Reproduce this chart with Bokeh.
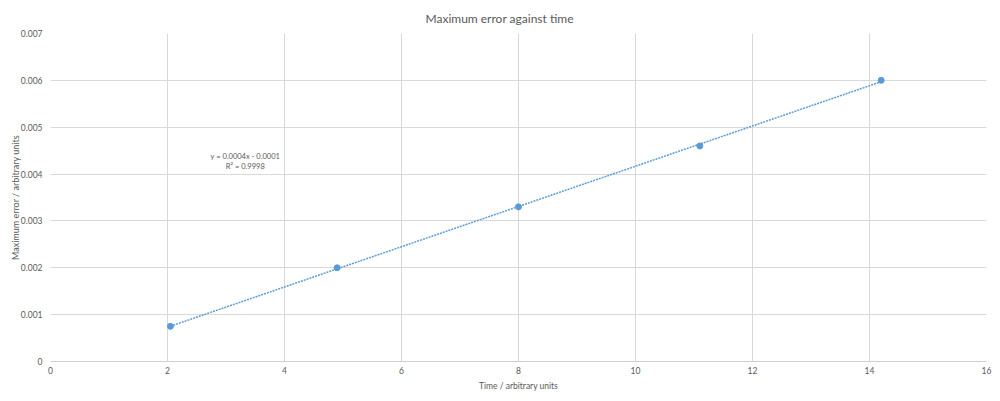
from bokeh.plotting import figure
from bokeh.models import FixedTicker, NumeralTickFormatter, Label, Range1d
from bokeh.embed import file_html
from bokeh.resources import INLINE
import numpy as np

# data
time_vals = [2.05, 4.9, 8.0, 11.1, 14.2]
max_error = [0.00075, 0.0020, 0.0033, 0.0046, 0.0060]
x_ticks = [0, 2, 4, 6, 8, 10, 12, 14, 16]
y_ticks = [0, 0.001, 0.002, 0.003, 0.004, 0.005, 0.006, 0.007]
title_text = "Maximum error against time"
x_label = "Time / arbitrary units"
y_label = "Maximum error / arbitrary units"
eq_text = "y = 0.0004x - 0.0001"
r2_text = "R\u00b2 = 0.9998"

FONT = "Lato"
GREY = "#595959"
BLUE = "#5b9bd5"

p = figure(frame_width=936, frame_height=328, output_backend="svg",
           toolbar_location=None, title=title_text,
           x_range=Range1d(0, 16), y_range=Range1d(0, 0.007),
           min_border_left=50, min_border_right=14, min_border_top=30,
           min_border_bottom=39)
p.outline_line_color = None
p.background_fill_color = "white"
p.border_fill_color = "white"

p.title.align = "left"
p.title.text_font = FONT
p.title.text_font_style = "normal"
p.title.text_font_size = "12px"
p.title.text_color = GREY
p.title.offset = 375
p.title.standoff = 16

for ax in (p.xaxis[0], p.yaxis[0]):
    ax.major_tick_line_color = None
    ax.minor_tick_line_color = None
    ax.major_tick_out = 0
    ax.major_tick_in = 0
    ax.minor_tick_out = 0
    ax.minor_tick_in = 0
    ax.major_label_text_font = FONT
    ax.major_label_text_font_size = "8.5px"
    ax.major_label_text_color = GREY
    ax.axis_label_text_font = FONT
    ax.axis_label_text_font_style = "normal"
    ax.axis_label_text_color = GREY

p.xaxis.axis_label_text_font_size = "8.5px"
p.yaxis.axis_label_text_font_size = "9px"
p.xaxis.ticker = FixedTicker(ticks=x_ticks)
p.yaxis.ticker = FixedTicker(ticks=y_ticks)
p.yaxis.formatter = NumeralTickFormatter(format="0.[000]")
p.xaxis.axis_label = x_label
p.yaxis.axis_label = y_label
p.xaxis.axis_line_color = "#cfcfcf"
p.yaxis.axis_line_color = None
p.xaxis.major_label_standoff = 5
p.yaxis.major_label_standoff = 8
p.xaxis.axis_label_standoff = 4
p.yaxis.axis_label_standoff = -3

p.xgrid.grid_line_color = "#d9d9d9"
p.ygrid.grid_line_color = "#d9d9d9"

# trendline from least-squares fit of the data
coef = np.polyfit(time_vals, max_error, 1)
tx = [min(time_vals), max(time_vals)]
ty = [coef[0] * t + coef[1] for t in tx]
p.line(tx, ty, line_color=BLUE, line_width=1.5, line_dash="2 1")

p.scatter(time_vals, max_error, size=6, fill_color=BLUE, line_color=BLUE)

p.add_layout(Label(x=3.33, y=0.004375, text=eq_text, text_align="center",
                   text_baseline="middle", text_font=FONT,
                   text_font_size="7.5px", text_color=GREY))
p.add_layout(Label(x=3.33, y=0.00416, text=r2_text, text_align="center",
                   text_baseline="middle", text_font=FONT,
                   text_font_size="7.5px", text_color=GREY))

open("out.html", "w").write(file_html(p, INLINE))
